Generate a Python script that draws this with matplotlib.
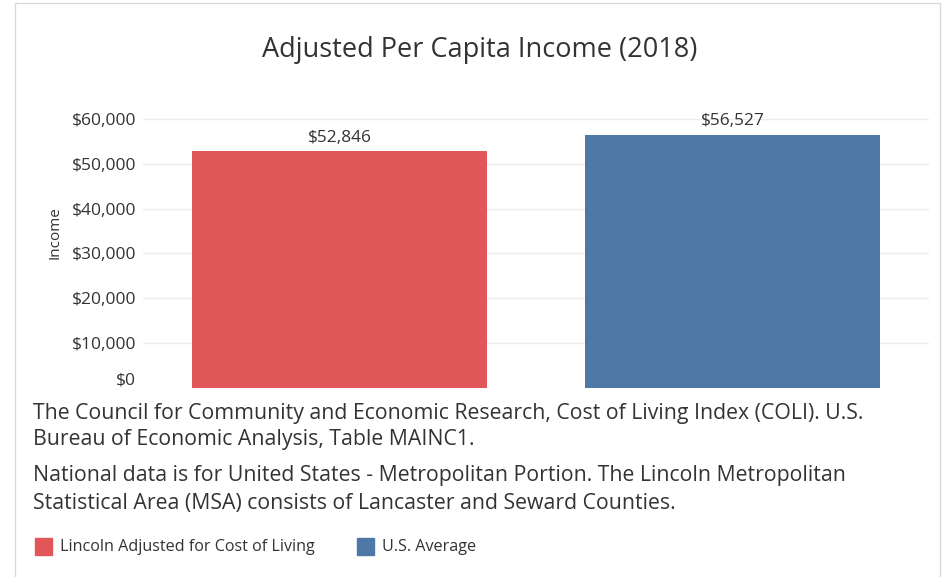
import matplotlib.pyplot as plt
import matplotlib.transforms as mtransforms
from matplotlib.patches import Rectangle

categories = ["Lincoln Adjusted for Cost of Living", "U.S. Average"]
income = [52846, 56527]
bar_labels = ["$52,846", "$56,527"]
yticks = [0, 10000, 20000, 30000, 40000, 50000, 60000]
ytick_labels = ["$0", "$10,000", "$20,000", "$30,000", "$40,000", "$50,000", "$60,000"]
notes = [
    "The Council for Community and Economic Research, Cost of Living Index (COLI). U.S.",
    "Bureau of Economic Analysis, Table MAINC1.",
    "National data is for United States - Metropolitan Portion. The Lincoln Metropolitan",
    "Statistical Area (MSA) consists of Lancaster and Seward Counties.",
]
colors = ["#E15759", "#4E79A7"]

plt.rcParams["font.family"] = ["Open Sans", "DejaVu Sans"]
txt = "#333333"

W, H = 948, 577
fig = plt.figure(figsize=(W / 100, H / 100), dpi=100)

# outer frame
fig.patches.append(Rectangle((15 / W, -0.05), (940 - 15) / W, 1.05 - 3 / H,
                             transform=fig.transFigure, fill=False,
                             edgecolor="#d9d9d9", lw=1))

ax = fig.add_axes([143 / W, (H - 388) / H, (929 - 143) / W, (388 - 101) / H])
x = range(len(income))
ax.bar(x, income, width=0.75, color=colors)
for i, v in enumerate(income):
    ax.text(i, v + 1200, bar_labels[i], ha="center", va="bottom", fontsize=12.4, color=txt)

ax.set_xlim(-0.5, 1.5)
ax.set_ylim(0, 64000)
ax.set_yticks(yticks)
ax.set_yticklabels(ytick_labels, fontsize=12.5, color=txt)
ax.set_xticks([])
ax.tick_params(axis="y", length=0, pad=5)
# bottom label sits a little above its gridline, like tableau does
lbl0 = ax.get_yticklabels()[0]
lbl0.set_transform(lbl0.get_transform() + mtransforms.ScaledTranslation(0, 0.1, fig.dpi_scale_trans))
ax.grid(axis="y", color="#ececec", lw=1)
ax.set_axisbelow(True)
for s in ax.spines.values():
    s.set_visible(False)
ax.set_ylabel("Income", fontsize=11, color=txt)
ax.yaxis.set_label_coords(-0.102, 0.54)

fig.text(480 / W, 1 - 50 / H, "Adjusted Per Capita Income (2018)", ha="center",
         va="center", fontsize=19.5, color=txt)

ys = [413, 440, 475, 503]
for line, y in zip(notes, ys):
    fig.text(33 / W, 1 - y / H, line, ha="left", va="center", fontsize=15.3, color=txt)

# legend
for (lx, c, lab) in [(35, colors[0], categories[0]), (357, colors[1], categories[1])]:
    fig.patches.append(Rectangle((lx / W, 1 - 555 / H), 17 / W, 17 / H,
                                 transform=fig.transFigure, color=c))
    fig.text((lx + 25) / W, 1 - 547 / H, lab, ha="left", va="center", fontsize=11.6, color=txt)

fig.savefig("out.png", dpi=100)
